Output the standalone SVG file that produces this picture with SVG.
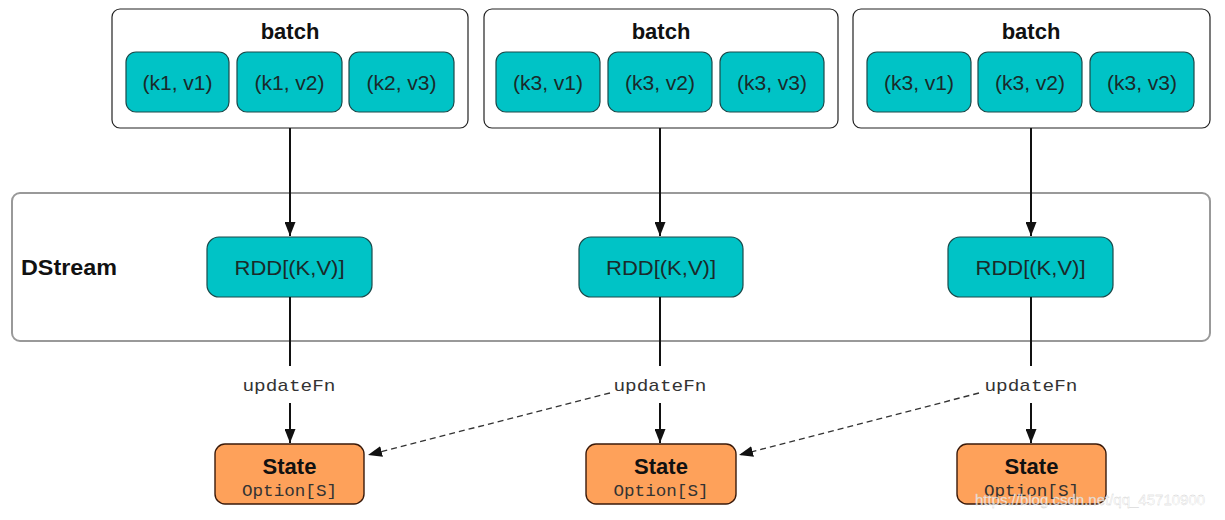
<svg xmlns="http://www.w3.org/2000/svg" width="1225" height="520" viewBox="0 0 1225 520">
<style>
.batch{fill:#fff;stroke:#222;stroke-width:1.2}
.cell{fill:#00C3C6;stroke:#1a4a4a;stroke-width:1.2}
.rdd{fill:#00C3C6;stroke:#1a4a4a;stroke-width:1.2}
.state{fill:#FEA15A;stroke:#3a1a0a;stroke-width:1.4}
.ds{fill:#fff;stroke:#999;stroke-width:2}
.t{font-family:"Liberation Sans",Arial,sans-serif;font-size:21px;fill:#1a2a2a;text-anchor:middle}
.b{font-family:"Liberation Sans",Arial,sans-serif;font-size:22px;font-weight:bold;fill:#111;text-anchor:middle}
.m{font-family:"Liberation Mono","Courier New",monospace;font-size:17px;fill:#333;text-anchor:middle}
.ln{stroke:#111;stroke-width:2;fill:none}
.dl{stroke:#333;stroke-width:1.3;fill:none;stroke-dasharray:6,4}
</style>
<defs>
<marker id="ah2" viewBox="0 0 10 10" refX="10" refY="5" markerWidth="14" markerHeight="11" markerUnits="userSpaceOnUse" orient="auto" preserveAspectRatio="none"><path d="M0,0 L10,5 L0,10 z" fill="#111"/></marker>
</defs>
<rect class="ds" x="12" y="193" width="1198" height="148" rx="8"/>
<text class="b" x="21" y="275" text-anchor="start" textLength="96" lengthAdjust="spacingAndGlyphs" style="text-anchor:start">DStream</text>
<g id="batch1">
<rect class="batch" x="112" y="9" width="356" height="119" rx="8"/>
<text class="b" x="290" y="39">batch</text>
<rect class="cell" x="126" y="52" width="103" height="60" rx="10"/><text class="t" x="177.5" y="90">(k1, v1)</text>
<rect class="cell" x="237" y="52" width="105" height="60" rx="10"/><text class="t" x="289.5" y="90">(k1, v2)</text>
<rect class="cell" x="349" y="52" width="105" height="60" rx="10"/><text class="t" x="401.5" y="90">(k2, v3)</text>
</g>
<g id="batch2">
<rect class="batch" x="484" y="9" width="354" height="119" rx="8"/>
<text class="b" x="661" y="39">batch</text>
<rect class="cell" x="496" y="52" width="104" height="60" rx="10"/><text class="t" x="548" y="90">(k3, v1)</text>
<rect class="cell" x="608" y="52" width="104" height="60" rx="10"/><text class="t" x="660" y="90">(k3, v2)</text>
<rect class="cell" x="720" y="52" width="104" height="60" rx="10"/><text class="t" x="772" y="90">(k3, v3)</text>
</g>
<g id="batch3">
<rect class="batch" x="853" y="9" width="357" height="119" rx="8"/>
<text class="b" x="1031" y="39">batch</text>
<rect class="cell" x="867" y="52" width="104" height="60" rx="10"/><text class="t" x="919" y="90">(k3, v1)</text>
<rect class="cell" x="978" y="52" width="104" height="60" rx="10"/><text class="t" x="1030" y="90">(k3, v2)</text>
<rect class="cell" x="1090" y="52" width="104" height="60" rx="10"/><text class="t" x="1142" y="90">(k3, v3)</text>
</g>
<g id="rdd1"><rect class="rdd" x="207" y="237" width="165" height="60" rx="12"/><text class="t" x="289.5" y="275" textLength="110" lengthAdjust="spacingAndGlyphs">RDD[(K,V)]</text></g>
<g id="rdd2"><rect class="rdd" x="579" y="237" width="164" height="60" rx="12"/><text class="t" x="661" y="275" textLength="110" lengthAdjust="spacingAndGlyphs">RDD[(K,V)]</text></g>
<g id="rdd3"><rect class="rdd" x="948" y="237" width="165" height="60" rx="12"/><text class="t" x="1030.5" y="275" textLength="110" lengthAdjust="spacingAndGlyphs">RDD[(K,V)]</text></g>
<g id="state1"><rect class="state" x="215" y="444" width="149" height="60" rx="10"/><text class="b" x="289.5" y="474">State</text><text class="m" x="289.5" y="496" textLength="95" lengthAdjust="spacingAndGlyphs">Option[S]</text></g>
<g id="state2"><rect class="state" x="586" y="444" width="150" height="60" rx="10"/><text class="b" x="661" y="474">State</text><text class="m" x="661" y="496" textLength="95" lengthAdjust="spacingAndGlyphs">Option[S]</text></g>
<g id="state3"><rect class="state" x="957" y="444" width="149" height="60" rx="10"/><text class="b" x="1031.5" y="474">State</text><text class="m" x="1031.5" y="496" textLength="95" lengthAdjust="spacingAndGlyphs">Option[S]</text></g>
<g id="connectors">
<line class="ln" x1="290" y1="128" x2="290" y2="236" marker-end="url(#ah2)"/>
<line class="ln" x1="660" y1="128" x2="660" y2="236" marker-end="url(#ah2)"/>
<line class="ln" x1="1031" y1="128" x2="1031" y2="236" marker-end="url(#ah2)"/>
<line class="ln" x1="290" y1="297" x2="290" y2="366"/>
<line class="ln" x1="660" y1="297" x2="660" y2="366"/>
<line class="ln" x1="1031" y1="297" x2="1031" y2="366"/>
<text class="m" x="289" y="391" textLength="93" lengthAdjust="spacingAndGlyphs">updateFn</text>
<text class="m" x="660" y="391" textLength="93" lengthAdjust="spacingAndGlyphs">updateFn</text>
<text class="m" x="1031" y="391" textLength="93" lengthAdjust="spacingAndGlyphs">updateFn</text>
<line class="ln" x1="290" y1="403" x2="290" y2="443" marker-end="url(#ah2)"/>
<line class="ln" x1="660" y1="403" x2="660" y2="443" marker-end="url(#ah2)"/>
<line class="ln" x1="1031" y1="403" x2="1031" y2="443" marker-end="url(#ah2)"/>
<line class="dl" x1="610" y1="393" x2="368" y2="455" marker-end="url(#ah2)"/>
<line class="dl" x1="979" y1="393" x2="739" y2="455" marker-end="url(#ah2)"/>
</g>
<text x="1090" y="505" font-family="Liberation Sans,Arial,sans-serif" font-size="15" fill="#fff" fill-opacity="0.75" stroke="#ccc" stroke-width="0.3" text-anchor="middle">https://blog.csdn.net/qq_45710900</text>
</svg>
